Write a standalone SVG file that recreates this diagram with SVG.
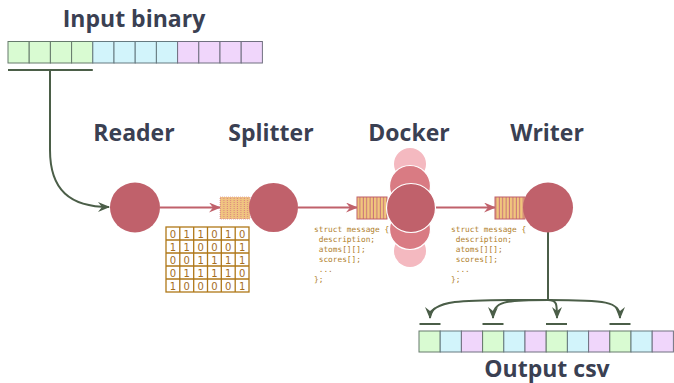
<svg xmlns="http://www.w3.org/2000/svg" width="674" height="383" viewBox="0 0 674 383">
  <style>
    .title { font-family: "Open Sans", "Noto Sans", sans-serif; font-weight: 700; font-size: 23px; fill: #3a4052; text-anchor: middle; }
    .g { fill: #d9fbd2; stroke: #667a6c; stroke-width: 1; }
    .b { fill: #d2f4fb; stroke: #667a80; stroke-width: 1; }
    .p { fill: #f0d6fb; stroke: #707080; stroke-width: 1; }
    .node { fill: #c0616b; }
    .red { stroke: #c0616b; stroke-width: 2.2; fill: none; }
    .green { stroke: #4b5e48; stroke-width: 2; fill: none; }
    .code { font-family: "DejaVu Sans Mono", "Liberation Mono", monospace; font-size: 7.8px; fill: #b0802c; }
    .bit { font-family: "DejaVu Sans", sans-serif; font-size: 10px; fill: #a56e1e; text-anchor: middle; }
    .grid { fill: #ffffff; stroke: #b07818; stroke-width: 1.3; }
    .queue { fill: url(#stripes); stroke: #c0616b; stroke-width: 1; }
  </style>
  <defs>
    <marker id="arrRed" viewBox="0 0 12 10" markerWidth="12" markerHeight="10" refX="11" refY="5" orient="auto" markerUnits="userSpaceOnUse">
      <path d="M0,0 L12,5 L0,10 L4,5 z" fill="#c0616b"/>
    </marker>
    <marker id="arrGreen" viewBox="0 0 12 10" markerWidth="12" markerHeight="10" refX="11" refY="5" orient="auto" markerUnits="userSpaceOnUse">
      <path d="M0,0 L12,5 L0,10 L4,5 z" fill="#4b5e48"/>
    </marker>
    <pattern id="stripes" width="3.4" height="4" patternUnits="userSpaceOnUse">
      <rect width="3.4" height="4" fill="#f0c67c"/>
      <rect x="2.4" width="1" height="4" fill="#c8707a"/>
    </pattern>
    <pattern id="dots" width="3.4" height="2" patternUnits="userSpaceOnUse">
      <rect width="3.4" height="2" fill="#f0c480"/>
      <rect x="2.4" width="1" height="1" fill="#d88080"/>
    </pattern>
  </defs>

  <!-- input record -->
  <g id="input">
    <text class="title" x="134" y="27">Input binary</text>
    <rect class="g" x="8" y="41.5" width="21.2" height="21.5"/>
    <rect class="g" x="29.2" y="41.5" width="21.2" height="21.5"/>
    <rect class="g" x="50.4" y="41.5" width="21.2" height="21.5"/>
    <rect class="g" x="71.6" y="41.5" width="21.2" height="21.5"/>
    <rect class="b" x="92.8" y="41.5" width="21.2" height="21.5"/>
    <rect class="b" x="114" y="41.5" width="21.2" height="21.5"/>
    <rect class="b" x="135.2" y="41.5" width="21.2" height="21.5"/>
    <rect class="b" x="156.4" y="41.5" width="21.2" height="21.5"/>
    <rect class="p" x="177.6" y="41.5" width="21.2" height="21.5"/>
    <rect class="p" x="198.8" y="41.5" width="21.2" height="21.5"/>
    <rect class="p" x="220" y="41.5" width="21.2" height="21.5"/>
    <rect class="p" x="241.2" y="41.5" width="21.2" height="21.5"/>
  </g>

  <!-- connectors -->
  <g id="connectors">
    <line class="green" x1="8" y1="70" x2="92.8" y2="70"/>
    <path class="green" d="M50,70 L50,150 C50,190 70,207 109,207" marker-end="url(#arrGreen)"/>
    <line class="red" x1="160" y1="207.5" x2="220" y2="207.5" marker-end="url(#arrRed)"/>
    <line class="red" x1="298" y1="207.5" x2="357" y2="207.5" marker-end="url(#arrRed)"/>
    <line class="red" x1="435" y1="207.5" x2="495" y2="207.5" marker-end="url(#arrRed)"/>
    <path class="green" d="M548,232 L548,300"/>
    <path class="green" d="M548,300 C470,300 430,298 430,318" marker-end="url(#arrGreen)"/>
    <path class="green" d="M548,300 C505,300 493,301 493,318" marker-end="url(#arrGreen)"/>
    <path class="green" d="M548,300 C557,300 557,304 557,318" marker-end="url(#arrGreen)"/>
    <path class="green" d="M548,300 C605,300 620,301 620,318" marker-end="url(#arrGreen)"/>
    <line class="green" x1="419.5" y1="324" x2="440.5" y2="324"/>
    <line class="green" x1="482.5" y1="324" x2="503.5" y2="324"/>
    <line class="green" x1="546" y1="324" x2="567" y2="324"/>
    <line class="green" x1="609.5" y1="324" x2="630.5" y2="324"/>
  </g>

  <!-- reader -->
  <g id="reader">
    <text class="title" x="134" y="141">Reader</text>
    <circle class="node" cx="135" cy="207.5" r="25"/>
  </g>

  <!-- splitter -->
  <g id="splitter">
    <text class="title" x="271" y="141">Splitter</text>
    <rect x="220" y="197" width="30" height="22" fill="url(#dots)" stroke="#e0a0a0" stroke-width="0.8" stroke-dasharray="1 1"/>
    <circle class="node" cx="273.5" cy="207.5" r="24.5"/>
    <g>
      <rect class="grid" x="166" y="227" width="83" height="65"/>
      <path d="M179.8,227 V292 M193.7,227 V292 M207.5,227 V292 M221.3,227 V292 M235.2,227 V292 M166,240 H249 M166,253 H249 M166,266 H249 M166,279 H249" stroke="#b07818" stroke-width="1.3" fill="none"/>
      <text class="bit" y="237.5"><tspan x="172.9">0</tspan><tspan x="186.8">1</tspan><tspan x="200.6">1</tspan><tspan x="214.4">0</tspan><tspan x="228.3">1</tspan><tspan x="242.1">0</tspan></text>
      <text class="bit" y="250.5"><tspan x="172.9">1</tspan><tspan x="186.8">1</tspan><tspan x="200.6">0</tspan><tspan x="214.4">0</tspan><tspan x="228.3">0</tspan><tspan x="242.1">1</tspan></text>
      <text class="bit" y="263.5"><tspan x="172.9">0</tspan><tspan x="186.8">0</tspan><tspan x="200.6">1</tspan><tspan x="214.4">1</tspan><tspan x="228.3">1</tspan><tspan x="242.1">1</tspan></text>
      <text class="bit" y="276.5"><tspan x="172.9">0</tspan><tspan x="186.8">1</tspan><tspan x="200.6">1</tspan><tspan x="214.4">1</tspan><tspan x="228.3">1</tspan><tspan x="242.1">0</tspan></text>
      <text class="bit" y="289.5"><tspan x="172.9">1</tspan><tspan x="186.8">0</tspan><tspan x="200.6">0</tspan><tspan x="214.4">0</tspan><tspan x="228.3">0</tspan><tspan x="242.1">1</tspan></text>
    </g>
  </g>

  <!-- docker -->
  <g id="docker">
    <text class="title" x="409" y="141">Docker</text>
    <rect class="queue" x="357" y="197" width="30" height="22"/>
    <circle cx="410" cy="164" r="16" fill="#f4b9c0"/>
    <circle cx="410" cy="251" r="16" fill="#f4b9c0"/>
    <circle cx="410" cy="186" r="20.5" fill="#d97b83" stroke="#ffffff" stroke-width="1.2"/>
    <circle cx="410" cy="229" r="20.5" fill="#d97b83" stroke="#ffffff" stroke-width="1.2"/>
    <circle class="node" cx="411" cy="208" r="24.5" stroke="#ffffff" stroke-width="1.2"/>
    <text class="code" x="314" y="232">struct message {</text>
    <text class="code" x="318.7" y="242">description;</text>
    <text class="code" x="318.7" y="252">atoms[][];</text>
    <text class="code" x="318.7" y="262">scores[];</text>
    <text class="code" x="318.7" y="272">...</text>
    <text class="code" x="314" y="282">};</text>
  </g>

  <!-- writer -->
  <g id="writer">
    <text class="title" x="547" y="141">Writer</text>
    <rect class="queue" x="495" y="197" width="30" height="22"/>
    <circle class="node" cx="548" cy="207.5" r="25"/>
    <text class="code" x="451" y="232">struct message {</text>
    <text class="code" x="455.7" y="242">description;</text>
    <text class="code" x="455.7" y="252">atoms[][];</text>
    <text class="code" x="455.7" y="262">scores[];</text>
    <text class="code" x="455.7" y="272">...</text>
    <text class="code" x="451" y="282">};</text>
  </g>

  <!-- output record -->
  <g id="output">
    <rect class="g" x="419" y="331" width="21.2" height="21"/>
    <rect class="b" x="440.2" y="331" width="21.2" height="21"/>
    <rect class="p" x="461.4" y="331" width="21.2" height="21"/>
    <rect class="g" x="482.6" y="331" width="21.2" height="21"/>
    <rect class="b" x="503.8" y="331" width="21.2" height="21"/>
    <rect class="p" x="525" y="331" width="21.2" height="21"/>
    <rect class="g" x="546.2" y="331" width="21.2" height="21"/>
    <rect class="b" x="567.4" y="331" width="21.2" height="21"/>
    <rect class="p" x="588.6" y="331" width="21.2" height="21"/>
    <rect class="g" x="609.8" y="331" width="21.2" height="21"/>
    <rect class="b" x="631" y="331" width="21.2" height="21"/>
    <rect class="p" x="652.2" y="331" width="21.2" height="21"/>
    <text class="title" x="547" y="377">Output csv</text>
  </g>
</svg>
